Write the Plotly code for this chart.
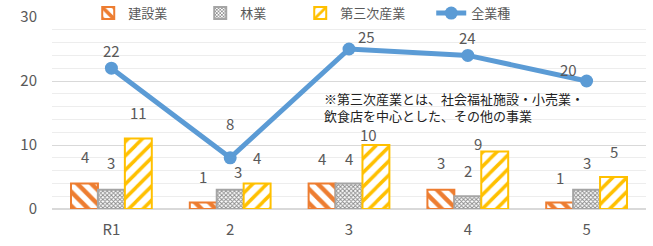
import plotly.graph_objects as go

categories = ["R1", "2", "3", "4", "5"]
construction = [4, 1, 4, 3, 1]
forestry = [3, 3, 4, 2, 3]
tertiary = [11, 4, 10, 9, 5]
all_industries = [22, 8, 25, 24, 20]

series_names = ["建設業", "林業", "第三次産業", "全業種"]
note_text = "※第三次産業とは、社会福祉施設・小売業・<br>飲食店を中心とした、その他の事業"

# label placement offsets (style): (dx px, dy px above value)
bar_label_offsets = [
    [(0, 27), (0, 26), (0, 25), (0, 27), (0, 25)],
    [(0, 27), (8, 18), (0, 25), (0, 26), (0, 27)],
    [(0, 26), (0, 26), (-7, 11), (-17, 8), (0, 26)],
]
line_label_offsets = [(0, 18), (0, 34), (17, 13), (0, 18), (-18, 12)]

ORANGE = "#ED7D31"
GRAY = "#A5A5A5"
YELLOW = "#FFC000"
BLUE = "#5B9BD5"
TEXT = "#595959"
FONT = "Noto Sans CJK JP"

fig = go.Figure()

bar_specs = [
    (construction, ORANGE, "\\", 10, 0.45, 67, ORANGE),
    (forestry, GRAY, "x", 3, 0.55, 55, "#8C8C8C"),
    (tertiary, YELLOW, "/", 10, 0.35, 86, YELLOW),
]
for (vals, col, shp, sz, sol, lw, fg), name in zip(bar_specs, series_names[:3]):
    fig.add_trace(go.Bar(
        x=categories, y=vals, name=name,
        marker=dict(color="white", line=dict(color=col, width=2),
                    pattern=dict(shape=shp, fgcolor=fg, bgcolor="white",
                                 size=sz, solidity=sol, fillmode="replace")),
        legendwidth=lw,
    ))

fig.add_trace(go.Scatter(
    x=categories, y=all_industries, name=series_names[3],
    mode="lines+markers",
    line=dict(color=BLUE, width=5),
    marker=dict(color=BLUE, size=13),
))

annotations = []
bar_series = [construction, forestry, tertiary]
bar_step = 26.9
for si, vals in enumerate(bar_series):
    for ci, v in enumerate(vals):
        dx, dy = bar_label_offsets[si][ci]
        annotations.append(dict(
            x=ci, y=v, xref="x", yref="y", text=str(v),
            showarrow=False, xanchor="center", yanchor="middle",
            xshift=(si - 1) * bar_step + dx, yshift=dy,
            font=dict(size=15, color=TEXT, family=FONT),
        ))
for ci, v in enumerate(all_industries):
    dx, dy = line_label_offsets[ci]
    annotations.append(dict(
        x=ci, y=v, xref="x", yref="y", text=str(v),
        showarrow=False, xanchor="center", yanchor="middle",
        xshift=dx, yshift=dy,
        font=dict(size=15, color=TEXT, family=FONT),
    ))
annotations.append(dict(
    x=(322 - 52) / 594, y=(209 - 87) / 192, xref="paper", yref="paper",
    text=note_text, showarrow=False, xanchor="left", yanchor="top", align="left",
    font=dict(size=13, color="#222222", family=FONT),
))

fig.update_layout(
    width=653, height=246,
    margin=dict(l=52, r=7, t=17, b=37, autoexpand=False),
    paper_bgcolor="white", plot_bgcolor="white",
    barmode="group", bargap=0.32, bargroupgap=0,
    font=dict(family=FONT, color=TEXT, size=13),
    showlegend=True,
    legend=dict(orientation="h", x=0.061, xanchor="left", y=1.02, yanchor="middle",
                bgcolor="rgba(0,0,0,0)", font=dict(size=13, color=TEXT, family=FONT),
                traceorder="normal"),
    annotations=annotations,
    xaxis=dict(type="category", showgrid=False, showline=False, ticks="",
               tickfont=dict(size=15, color=TEXT), zeroline=False,
               ticklabelstandoff=10),
    yaxis=dict(range=[0, 30], dtick=10, tick0=0, showgrid=True, gridcolor="#D9D9D9",
               gridwidth=1, zeroline=True, zerolinecolor="#D9D9D9", zerolinewidth=1.5,
               showline=False, ticks="", tickfont=dict(size=15, color=TEXT),
               ticklabelstandoff=14,
               minor=dict(dtick=2, showgrid=True, gridcolor="#EDEDED", gridwidth=1)),
)

fig.write_html("out.html",
               config={"displayModeBar": False},
               post_script="document.body.style.margin='0';document.body.style.overflow='hidden';")
